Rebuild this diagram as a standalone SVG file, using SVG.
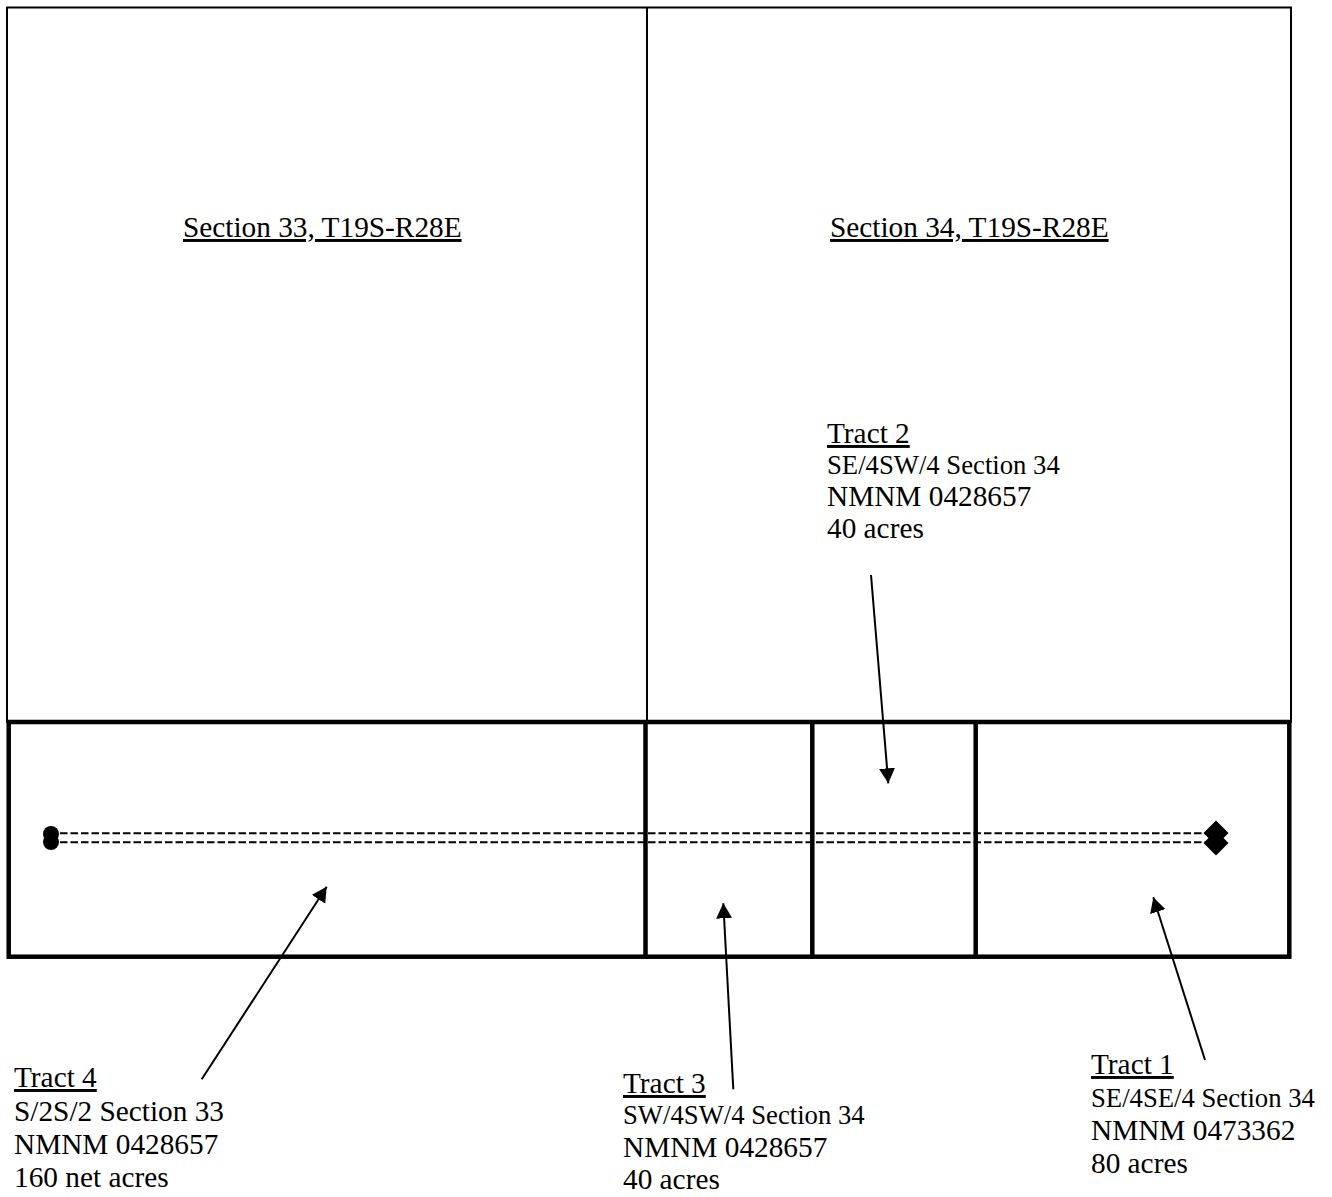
<svg xmlns="http://www.w3.org/2000/svg" width="1332" height="1197" viewBox="0 0 1332 1197">
<style>
text{font-family:"Liberation Serif","Times New Roman",serif;fill:#000}
.big{font-size:29.3px}
.small{font-size:26.7px}
.u{text-decoration:underline}
.thin{fill:none;stroke:#000;stroke-width:2}
.thick{fill:none;stroke:#000;stroke-width:4.5}
.dash{fill:none;stroke:#000;stroke-width:2;stroke-dasharray:7.5 3}
.arrow{fill:none;stroke:#000;stroke-width:2;marker-end:url(#ah)}
</style>
<defs>
<marker id="ah" markerUnits="userSpaceOnUse" markerWidth="16" markerHeight="16" refX="15" refY="8" orient="auto">
<path d="M0,0 L15,8 L0,16 Z" fill="#000"/>
</marker>
</defs>
<rect width="1332" height="1197" fill="#fff"/>
<g id="sections">
<rect class="thin" x="7" y="7.5" width="1284" height="714.5"/>
<line class="thin" x1="647" y1="7.5" x2="647" y2="722"/>
</g>
<g id="tracts-frame">
<rect class="thick" x="8.7" y="722" width="1280.6" height="234.7"/>
<line class="thick" x1="645.5" y1="722" x2="645.5" y2="956.7"/>
<line class="thick" x1="812.3" y1="722" x2="812.3" y2="956.7"/>
<line class="thick" x1="975.7" y1="722" x2="975.7" y2="956.7"/>
</g>
<g id="wellbore">
<line class="dash" x1="60" y1="833.3" x2="1206" y2="833.3"/>
<line class="dash" x1="60" y1="842.3" x2="1206" y2="842.3"/>
<circle cx="51" cy="834" r="8"/>
<circle cx="51" cy="842" r="8"/>
<path d="M1216,820.5 L1228.5,833 L1216,845.5 L1203.5,833 Z"/>
<path d="M1216,830.5 L1228.5,843 L1216,855.5 L1203.5,843 Z"/>
</g>
<g id="section-33-label"><text class="big u" x="183" y="237">Section 33, T19S-R28E</text></g>
<g id="section-34-label"><text class="big u" x="830" y="237">Section 34, T19S-R28E</text></g>
<g id="tract-2">
<text class="big u" x="827" y="443">Tract 2</text>
<text class="small" x="827" y="474">SE/4SW/4 Section 34</text>
<text class="big" x="827" y="506">NMNM 0428657</text>
<text class="big" x="827" y="538">40 acres</text>
</g>
<g id="tract-4">
<text class="big u" x="14" y="1087">Tract 4</text>
<text class="big" x="14" y="1121">S/2S/2 Section 33</text>
<text class="big" x="14" y="1154">NMNM 0428657</text>
<text class="big" x="14" y="1187">160 net acres</text>
</g>
<g id="tract-3">
<text class="big u" x="623" y="1093">Tract 3</text>
<text class="small" x="623" y="1124">SW/4SW/4 Section 34</text>
<text class="big" x="623" y="1157">NMNM 0428657</text>
<text class="big" x="623" y="1189">40 acres</text>
</g>
<g id="tract-1">
<text class="big u" x="1091" y="1074">Tract 1</text>
<text class="small" x="1091" y="1107">SE/4SE/4 Section 34</text>
<text class="big" x="1091" y="1140">NMNM 0473362</text>
<text class="big" x="1091" y="1173">80 acres</text>
</g>
<g id="connectors">
<line class="arrow" x1="871" y1="575" x2="888.3" y2="783.3"/>
<line class="arrow" x1="201.7" y1="1079.3" x2="326.7" y2="886.7"/>
<line class="arrow" x1="733.3" y1="1089.3" x2="723.3" y2="903.3"/>
<line class="arrow" x1="1205" y1="1060" x2="1153.3" y2="897.3"/>
</g>
</svg>
